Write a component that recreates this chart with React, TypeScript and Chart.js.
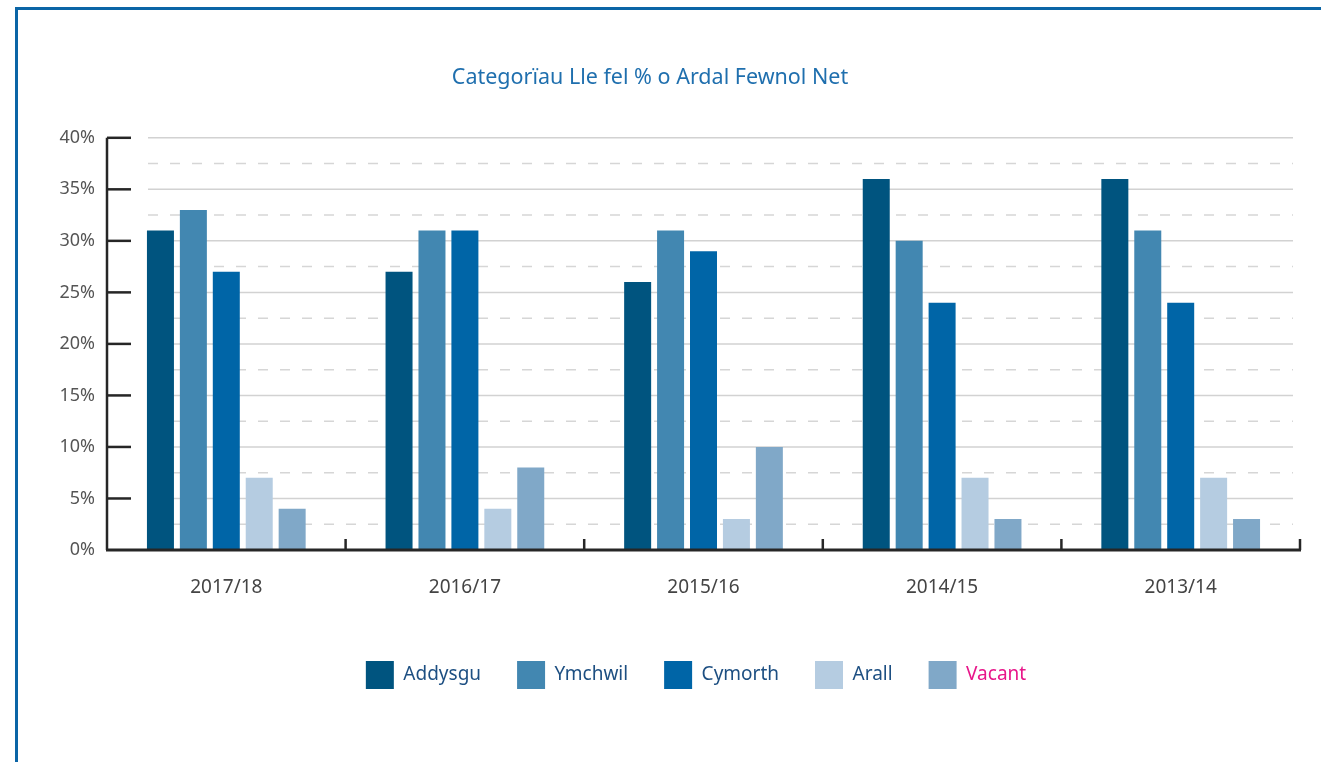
import React, { useEffect, useRef } from "react";
import { Chart, registerables } from "chart.js";

Chart.register(...registerables);

const titleText = "Categorïau Lle fel % o Ardal Fewnol Net";
const categories = ["2017/18", "2016/17", "2015/16", "2014/15", "2013/14"];
const seriesNames = ["Addysgu", "Ymchwil", "Cymorth", "Arall", "Vacant"];
const addysgu = [31, 27, 26, 36, 36];
const ymchwil = [33, 31, 31, 30, 31];
const cymorth = [27, 31, 29, 24, 24];
const arall = [7, 4, 3, 7, 7];
const vacant = [4, 8, 10, 3, 3];
const seriesValues = [addysgu, ymchwil, cymorth, arall, vacant];
const seriesColors = ["#00547f", "#4287b1", "#0065a7", "#b5cce1", "#80a8c8"];
const legendTextColors = ["#1d4f82", "#1d4f82", "#1d4f82", "#1d4f82", "#e8168a"];
const yMin = 0;
const yMax = 40;
const yStep = 5;

const FONT = "'Noto Sans', 'DejaVu Sans', sans-serif";

const customAxes = {
  id: "customAxes",
  afterLayout(chart: any) {
    const lg = chart.legend;
    if (lg) {
      lg.left += 46;
      lg.right += 46;
    }
  },
  beforeDatasetsDraw(chart: any) {
    const { ctx, chartArea } = chart;
    const y = chart.scales.y;
    const gx0 = chartArea.left + 41;
    const gx1 = chartArea.right - 7;
    ctx.save();
    const ticks = y.ticks;
    for (let i = 0; i < ticks.length; i++) {
      const py = y.getPixelForValue(ticks[i].value);
      if (ticks[i].value > yMin) {
        ctx.strokeStyle = "#d2d2d2";
        ctx.lineWidth = 1.5;
        ctx.setLineDash([]);
        ctx.beginPath();
        ctx.moveTo(gx0, py);
        ctx.lineTo(gx1, py);
        ctx.stroke();
      }
      if (i + 1 < ticks.length) {
        const py2 = y.getPixelForValue(ticks[i + 1].value);
        const mid = (py + py2) / 2;
        ctx.strokeStyle = "#d6d6d6";
        ctx.lineWidth = 1.5;
        ctx.setLineDash([10, 12]);
        ctx.beginPath();
        ctx.moveTo(gx0, mid);
        ctx.lineTo(gx1, mid);
        ctx.stroke();
      }
    }
    ctx.restore();
  },
  afterDatasetsDraw(chart: any) {
    const { ctx, chartArea } = chart;
    const y = chart.scales.y;
    const x = chart.scales.x;
    ctx.save();
    ctx.strokeStyle = "#262626";
    ctx.lineWidth = 2.5;
    ctx.setLineDash([]);
    const bottom = y.getPixelForValue(yMin);
    const top = y.getPixelForValue(yMax);
    ctx.beginPath();
    ctx.moveTo(chartArea.left, top);
    ctx.lineTo(chartArea.left, bottom);
    ctx.stroke();
    for (const t of y.ticks) {
      const py = y.getPixelForValue(t.value);
      if (t.value === yMin) continue;
      ctx.beginPath();
      ctx.moveTo(chartArea.left, py);
      ctx.lineTo(chartArea.left + 24, py);
      ctx.stroke();
    }
    ctx.lineWidth = 3;
    ctx.beginPath();
    ctx.moveTo(chartArea.left - 1, bottom);
    ctx.lineTo(chartArea.right + 1, bottom);
    ctx.stroke();
    ctx.lineWidth = 2.5;
    for (let i = 1; i <= categories.length; i++) {
      const px = x.getPixelForValue(i - 0.5);
      ctx.beginPath();
      ctx.moveTo(px, bottom);
      ctx.lineTo(px, bottom - 11);
      ctx.stroke();
    }
    ctx.restore();
  },
};

export default function App() {
  const ref = useRef<HTMLCanvasElement | null>(null);

  useEffect(() => {
    if (!ref.current) return;
    const chart = new Chart(ref.current, {
      type: "bar",
      data: {
        labels: categories,
        datasets: seriesNames.map((name, i) => ({
          label: name,
          data: seriesValues[i],
          backgroundColor: seriesColors[i],
          borderWidth: 0,
          barPercentage: 0.82,
          categoryPercentage: 0.69,
        })),
      },
      options: {
        responsive: false,
        animation: false,
        layout: { padding: { left: 0, right: 21, top: 0, bottom: 63 } },
        plugins: {
          title: {
            display: true,
            text: titleText,
            color: "#1f6fae",
            font: { family: FONT, size: 21.5, weight: "normal" },
            padding: { top: 65, bottom: 47 },
          },
          legend: {
            display: true,
            position: "bottom",
            labels: {
              boxWidth: 28,
              boxHeight: 28,
              padding: 36,
              font: { family: FONT, size: 19 },
              generateLabels: (c: any) =>
                c.data.datasets.map((ds: any, i: number) => ({
                  text: ds.label,
                  fillStyle: ds.backgroundColor,
                  strokeStyle: ds.backgroundColor,
                  lineWidth: 0,
                  fontColor: legendTextColors[i],
                  hidden: false,
                  datasetIndex: i,
                })),
            },
          },
          tooltip: { enabled: false },
        },
        scales: {
          x: {
            grid: { display: false, drawTicks: false },
            border: { display: false },
            ticks: { color: "#444444", padding: 26, font: { family: FONT, size: 19 } },
            afterFit: (s: any) => {
              s.height = 75;
            },
          },
          y: {
            min: yMin,
            max: yMax,
            grid: { display: false, drawTicks: false },
            border: { display: false },
            ticks: {
              stepSize: yStep,
              padding: 12,
              color: "#555555",
              font: { family: FONT, size: 18 },
              callback: (v: any) => v + "%",
            },
            afterFit: (s: any) => {
              s.width = 107;
            },
          },
        },
      },
      plugins: [customAxes],
    });
    return () => chart.destroy();
  }, []);

  return (
    <div style={{ position: "absolute", left: 0, top: 0, width: 1321, height: 762, background: "#ffffff", overflow: "hidden" }}>
      <div
        style={{
          position: "absolute",
          left: 15,
          top: 7,
          right: 0,
          bottom: -10,
          borderTop: "3px solid #0b65a6",
          borderLeft: "3px solid #0b65a6",
        }}
      />
      <canvas ref={ref} width={1321} height={762} style={{ position: "absolute", left: 0, top: 0, width: 1321, height: 762 }} />
    </div>
  );
}
